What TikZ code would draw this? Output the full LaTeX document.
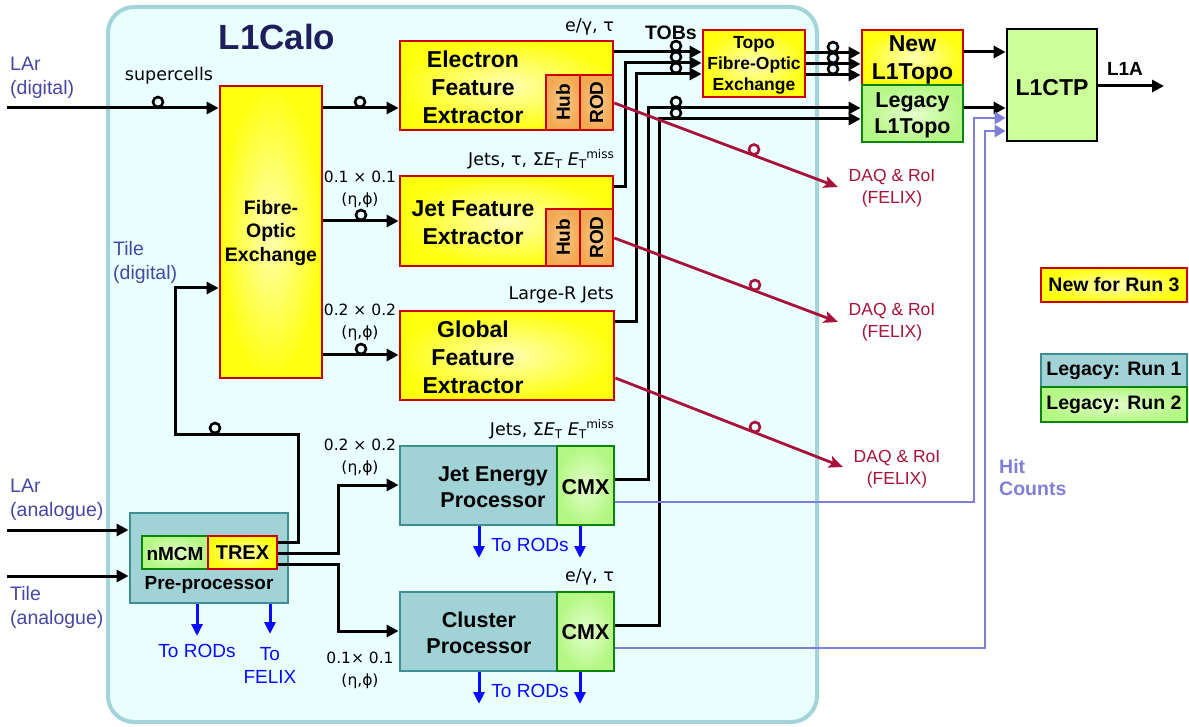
\documentclass[tikz,border=0pt]{standalone}
\usepackage{fontspec}
\setmainfont{Liberation Sans}
\newfontfamily\lblfont{DejaVu Sans}
\usetikzlibrary{arrows.meta}
\definecolor{calofill}{HTML}{EAFFFF}
\definecolor{calodraw}{HTML}{A2D4D9}
\definecolor{yelin}{HTML}{FFFFB4}
\definecolor{yelout}{HTML}{FFFF10}
\definecolor{redbd}{HTML}{CC0000}
\definecolor{orin}{HTML}{FBCB8C}
\definecolor{orout}{HTML}{F3A852}
\definecolor{tealfill}{HTML}{A1D2D6}
\definecolor{tealbd}{HTML}{3E8F93}
\definecolor{grin}{HTML}{E4FFCC}
\definecolor{grout}{HTML}{B4F784}
\definecolor{greenbd}{HTML}{0A840A}
\definecolor{ctpfill}{HTML}{CCFF99}
\definecolor{navy}{HTML}{1E1E5C}
\definecolor{lblblue}{HTML}{4646A6}
\definecolor{hitblue}{HTML}{7F7FD9}
\definecolor{daqred}{HTML}{A8123A}
\definecolor{rodblue}{HTML}{0A0AFF}
\newcommand\fs[2]{\fontsize{#1}{#2}\selectfont}
\newcommand\ETs{\textit{E}\raisebox{-3pt}{\fs{12}{12}T}}
\newcommand\ETm{\textit{E}\raisebox{-3pt}{\fs{12}{12}T}\raisebox{6.5pt}{\fs{12}{12}miss}}
\tikzset{
  conn/.style={line width=3pt, draw=black},
  arr/.style={conn, -{Triangle[length=12pt,width=12pt]}},
  barr/.style={line width=3pt, draw=rodblue, -{Triangle[length=12pt,width=11pt]}},
  harr/.style={line width=2.8pt, draw=hitblue, -{Triangle[length=11pt,width=12pt]}},
  darr/.style={line width=2.8pt, draw=daqred, -{Stealth[length=14pt,width=12pt,inset=3pt]}},
  ybox/.style={draw=redbd, line width=2.8pt, inner color=yelin, outer color=yelout, inner sep=0pt},
  obox/.style={draw=redbd, line width=2.5pt, inner color=orin, outer color=orout, inner sep=0pt},
  tbox/.style={draw=tealbd, fill=tealfill, line width=2.8pt, inner sep=0pt},
  gbox/.style={draw=greenbd, line width=2.8pt, inner color=grin, outer color=grout, inner sep=0pt},
  ring/.style={circle, draw=black, line width=2.6pt, fill=calofill, minimum size=10pt, inner sep=0pt},
  dring/.style={ring, draw=daqred},
  bigtxt/.style={font=\bfseries\fs{23}{28}, align=center, inner sep=0pt},
  midtxt/.style={font=\bfseries\fs{21.5}{26}, align=center, inner sep=0pt},
  lbl/.style={font=\lblfont\fs{17.5}{22}, align=center, inner sep=0pt},
  reslbl/.style={font=\lblfont\fs{15.5}{22}, align=center, inner sep=0pt},
  srcl/.style={font=\fs{19.5}{24}, text=lblblue, align=left, anchor=west, inner sep=0pt},
  rodt/.style={font=\fs{19}{23}, text=rodblue, align=center, inner sep=0pt},
  daqt/.style={font=\fs{17.5}{22}, text=daqred, align=center, inner sep=0pt},
}
\begin{document}
\begin{tikzpicture}[x=1pt,y=-1pt]
\useasboundingbox (0,0) rectangle (1189,727);
% L1Calo frame
\draw[draw=calodraw, fill=calofill, line width=4pt, rounded corners=26pt] (108,7) rectangle (817,722);
\node[font=\bfseries\fs{35}{40}, text=navy, inner sep=0pt] (title) at (277,37) {L1Calo};

% boxes
\node[ybox, minimum width=102pt, minimum height=292pt] (fox) at (271,232) {};
\node[font=\bfseries\fs{19.5}{23.5}, align=center, inner sep=0pt] (foxt) at (271,233) {Fibre-\\Optic\\Exchange};

\node[ybox, minimum width=213pt, minimum height=89pt] (efex) at (506.5,85.5) {};
\node[obox, minimum width=34pt, minimum height=55pt] (efexhub) at (563,102.5) {};
\node[obox, minimum width=33pt, minimum height=55pt] (efexrod) at (596.5,102.5) {};
\node[font=\bfseries\fs{19}{19}, rotate=90, inner sep=0pt] (efexhubt) at (563,102.5) {Hub};
\node[font=\bfseries\fs{19}{19}, rotate=90, inner sep=0pt] (efexrodt) at (596.5,102.5) {ROD};
\node[bigtxt] (efext) at (473,87.5) {Electron\\Feature\\Extractor};

\node[ybox, minimum width=213pt, minimum height=90pt] (jfex) at (506.5,221) {};
\node[obox, minimum width=34pt, minimum height=57pt] (jfexhub) at (563,237.5) {};
\node[obox, minimum width=33pt, minimum height=57pt] (jfexrod) at (596.5,237.5) {};
\node[font=\bfseries\fs{19}{19}, rotate=90, inner sep=0pt] (jfexhubt) at (563,237.5) {Hub};
\node[font=\bfseries\fs{19}{19}, rotate=90, inner sep=0pt] (jfexrodt) at (596.5,237.5) {ROD};
\node[bigtxt] (jfext) at (473,223) {Jet Feature\\Extractor};

\node[ybox, minimum width=214pt, minimum height=89pt] (gfex) at (507,355.5) {};
\node[bigtxt] (gfext) at (473,357.5) {Global\\Feature\\Extractor};

\node[tbox, minimum width=157pt, minimum height=79pt] (jep) at (478.5,485.5) {};
\node[gbox, minimum width=57pt, minimum height=79pt] (jepcmx) at (585.5,485.5) {};
\node[midtxt] (jept) at (493,487) {Jet Energy\\Processor};
\node[midtxt] (jepcmxt) at (585.5,487) {CMX};

\node[tbox, minimum width=157pt, minimum height=79pt] (cp) at (478.5,631.5) {};
\node[gbox, minimum width=57pt, minimum height=79pt] (cpcmx) at (585.5,631.5) {};
\node[midtxt] (cpt) at (479,633) {Cluster\\Processor};
\node[midtxt] (cpcmxt) at (585.5,632) {CMX};

\node[tbox, minimum width=158pt, minimum height=90pt] (pre) at (209,558) {};
\node[gbox, minimum width=66pt, minimum height=33pt] (nmcm) at (175,552.5) {};
\node[ybox, minimum width=69pt, minimum height=33pt] (trex) at (242.5,552.5) {};
\node[font=\bfseries\fs{19}{19}, inner sep=0pt] (nmcmt) at (175,553.5) {nMCM};
\node[font=\bfseries\fs{20}{20}, inner sep=0pt] (trext) at (242.5,552.5) {TREX};
\node[font=\bfseries\fs{19}{19}, inner sep=0pt] (pret) at (209,585) {Pre-processor};

\node[ybox, minimum width=102pt, minimum height=67pt] (topo) at (754,63.5) {};
\node[font=\bfseries\fs{17.5}{21}, align=center, inner sep=0pt] (topot) at (754,65) {Topo\\Fibre-Optic\\Exchange};

\node[ybox, minimum width=101pt, minimum height=55pt] (newtopo) at (912.5,57.5) {};
\node[font=\bfseries\fs{23}{28}, align=center, inner sep=0pt] (newtopot) at (912.5,59.5) {New\\L1Topo};
\node[gbox, minimum width=101pt, minimum height=57pt] (legtopo) at (912.5,113.5) {};
\node[font=\bfseries\fs{21.5}{26}, align=center, inner sep=0pt] (legtopot) at (912.5,115.5) {Legacy\\L1Topo};

\node[draw=black, fill=ctpfill, line width=2.8pt, minimum width=90pt, minimum height=112pt, inner sep=0pt] (ctp) at (1052,85) {};
\node[font=\bfseries\fs{23}{23}, inner sep=0pt] (ctpt) at (1052,88) {L1CTP};

% legend
\node[ybox, minimum width=146pt, minimum height=34pt, font=\bfseries\fs{19.5}{19.5}] (legnew) at (1114,285) {New for Run 3};
\node[tbox, minimum width=146pt, minimum height=33pt, font=\bfseries\fs{19.5}{19.5}] (legr1) at (1114,370.5) {Legacy: Run 1};
\node[gbox, minimum width=146pt, minimum height=35pt, font=\bfseries\fs{19.5}{19.5}] (legr2) at (1114,404.5) {Legacy: Run 2};

% inputs
\coordinate (lardin) at (7,108);
\coordinate (larain) at (7,530);
\coordinate (tilein) at (7,576);
\draw[arr] (lardin) -- (fox.west |- lardin);
\draw[arr] (larain) -- (pre.west |- larain);
\draw[arr] (tilein) -- (pre.west |- tilein);
\node[srcl] (lardt) at (10,78) {LAr\\(digital)};
\node[srcl] (tiledt) at (113,262) {Tile\\(digital)};
\node[srcl] (larat) at (10,500) {LAr\\(analogue)};
\node[srcl] (tileat) at (10,607) {Tile\\(analogue)};
\node[lbl] (supc) at (169,76) {supercells};

% FOX to FEXes
\draw[arr] (fox.east |- 0,108) -- (efex.west |- 0,108);
\draw[arr] (fox.east |- 0,221) -- (jfex.west |- 0,221);
\draw[arr] (fox.east |- 0,355) -- (gfex.west |- 0,355);
\node[reslbl] (res1) at (360,189) {0.1 × 0.1\\(η,ϕ)};
\node[reslbl] (res2) at (360,322.5) {0.2 × 0.2\\(η,ϕ)};

% Tile digital from TREX
\draw[arr] (trex.east |- 0,542) -| (298,434) -| (175,288) -- (fox.west |- 0,288);
% TREX to JEP / CP
\draw[arr] (trex.east |- 0,553) -| (338,485) -- (jep.west |- 0,485);
\draw[arr] (trex.east |- 0,564) -| (338,631) -- (cp.west |- 0,631);
\node[reslbl] (res3) at (360,457.5) {0.2 × 0.2\\(η,ϕ)};
\node[reslbl] (res4) at (360,670.5) {0.1× 0.1\\(η,ϕ)};

% To RODs / FELIX
\draw[barr] (pre.south -| 197,0) -- (197,636);
\draw[barr] (pre.south -| 270,0) -- (270,634);
\node[rodt] (prerod) at (197,651) {To RODs};
\node[rodt] (prefelix) at (270,665) {To\\FELIX};
\draw[barr] (jep.south -| 479,0) -- (479,558);
\draw[barr] (jepcmx.south -| 580,0) -- (580,558);
\node[rodt] (jeprod) at (530,545) {To RODs};
\draw[barr] (cp.south -| 479,0) -- (479,704);
\draw[barr] (cpcmx.south -| 580,0) -- (580,704);
\node[rodt] (cprod) at (530,691) {To RODs};

% output labels
\node[lbl, anchor=east] (l1) at (614,27) {e/γ, τ};
\node[lbl, anchor=east] (l2) at (614,159) {Jets, τ, Σ\ETs{} \ETm};
\node[lbl, anchor=east] (l3) at (614,295) {Large-R Jets};
\node[lbl, anchor=east] (l4) at (614,429) {Jets, Σ\ETs{} \ETm};
\node[lbl, anchor=east] (l5) at (614,577) {e/γ, τ};

% TOBs to topo
\draw[arr] (efex.east |- 0,52) -- (topo.west |- 0,52);
\draw[arr] (jfex.east |- 0,187) -| (625,63) -- (topo.west |- 0,63);
\draw[arr] (gfex.east |- 0,322) -| (636,74) -- (topo.west |- 0,74);
\draw[arr] (jepcmx.east |- 0,479) -| (648,108) -- (legtopo.west |- 0,108);
\draw[arr] (cpcmx.east |- 0,625) -| (659,119) -- (legtopo.west |- 0,119);
\node[font=\bfseries\fs{19.5}{19.5}, inner sep=0pt] (tobs) at (671,33) {TOBs};

\draw[arr] (topo.east |- 0,53) -- (newtopo.west |- 0,53);
\draw[arr] (topo.east |- 0,64) -- (newtopo.west |- 0,64);
\draw[arr] (topo.east |- 0,75) -- (newtopo.west |- 0,75);
\draw[arr] (newtopo.east |- 0,52) -- (ctp.west |- 0,52);
\draw[arr] (legtopo.east |- 0,108) -- (ctp.west |- 0,108);
\coordinate (l1aend) at (1164,86);
\draw[arr] (ctp.east |- l1aend) -- (l1aend);
\node[font=\bfseries\fs{19}{19}, inner sep=0pt] (l1at) at (1125,69) {L1A};

% Hit counts
\draw[harr] (jepcmx.east |- 0,502) -| (974,118) -- (ctp.west |- 0,118);
\draw[harr] (cpcmx.east |- 0,648) -| (985,131) -- (ctp.west |- 0,131);
\node[font=\bfseries\fs{19.5}{22}, text=hitblue, align=left, anchor=west, inner sep=0pt] (hitt) at (999,478) {Hit\\Counts};

% DAQ
\coordinate (daq1) at (838,187);
\coordinate (daq2) at (838,322);
\coordinate (daq3) at (843,467);
\draw[darr] (efexrod.east |- 0,103) -- (daq1);
\draw[darr] (jfexrod.east |- 0,238) -- (daq2);
\draw[darr] (gfex.east |- 0,378) -- (daq3);
\node[daqt] (daq1t) at (892,188) {DAQ \& RoI\\(FELIX)};
\node[daqt] (daq2t) at (892,322) {DAQ \& RoI\\(FELIX)};
\node[daqt] (daq3t) at (897,469) {DAQ \& RoI\\(FELIX)};

% rings
\node[ring] (r1) at (158,102) {};
\node[ring] (r2) at (360,102) {};
\node[ring] (r3) at (361,215) {};
\node[ring] (r4) at (361,349) {};
\node[ring] (r5) at (215,428) {};
\node[ring] (r6) at (676,46) {};
\node[ring] (r7) at (676,57) {};
\node[ring] (r8) at (676,68) {};
\node[ring] (r9) at (676,102) {};
\node[ring] (r10) at (676,113) {};
\node[ring] (r11) at (833,47) {};
\node[ring] (r12) at (833,58) {};
\node[ring] (r13) at (833,69) {};
\node[dring] (r14) at (754,149.5) {};
\node[dring] (r15) at (755,285) {};
\node[dring] (r16) at (755,427) {};
\end{tikzpicture}
\end{document}
